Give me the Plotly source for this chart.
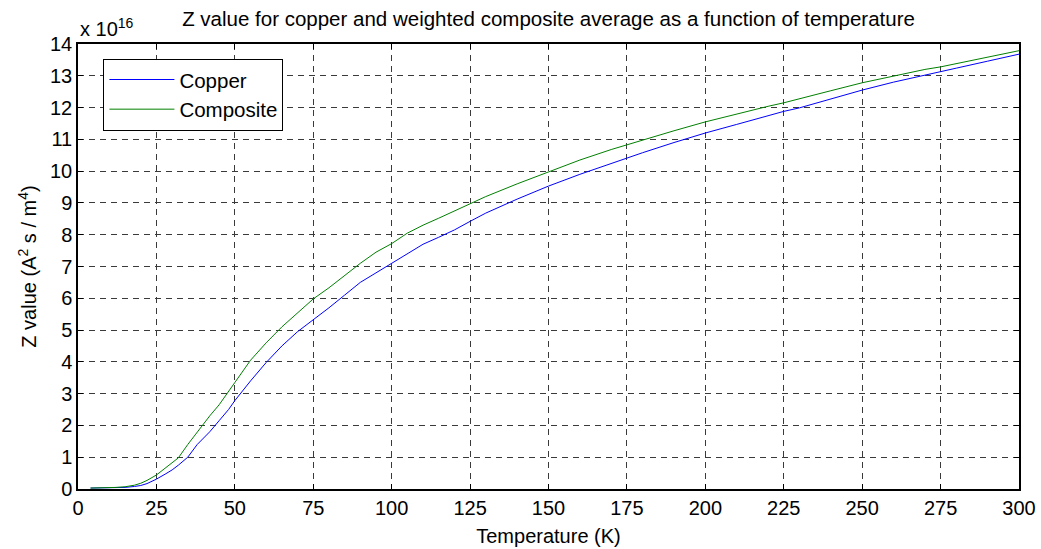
import plotly.graph_objects as go

# Temperature (K)
temperature = [4, 8, 12, 15, 18, 20, 22, 25, 28, 30, 32, 35, 38, 40, 42, 45, 48, 50, 55, 60,
               65, 70, 75, 80, 85, 90, 95, 100, 105, 110, 115, 120, 125, 130, 140, 150, 160,
               170, 175, 180, 190, 200, 210, 220, 225, 230, 240, 250, 260, 270, 275, 280, 290, 300]
# Z value in units of 1e16 A^2 s / m^4
copper = [0.03, 0.03, 0.04, 0.05, 0.08, 0.11, 0.17, 0.31, 0.48, 0.60, 0.75, 1.00, 1.40, 1.60,
          1.80, 2.15, 2.50, 2.78, 3.40, 3.98, 4.50, 4.95, 5.32, 5.70, 6.10, 6.50, 6.80, 7.10,
          7.38, 7.70, 7.92, 8.15, 8.42, 8.68, 9.12, 9.53, 9.90, 10.25, 10.43, 10.58, 10.90,
          11.20, 11.47, 11.74, 11.88, 11.99, 12.28, 12.55, 12.80, 13.03, 13.13, 13.24, 13.46, 13.68]
composite = [0.03, 0.03, 0.05, 0.07, 0.12, 0.18, 0.27, 0.44, 0.68, 0.85, 0.98, 1.40, 1.80, 2.05,
             2.30, 2.65, 3.05, 3.35, 4.05, 4.60, 5.10, 5.55, 5.98, 6.33, 6.72, 7.10, 7.45, 7.72,
             8.05, 8.30, 8.52, 8.75, 8.98, 9.20, 9.60, 9.98, 10.35, 10.68, 10.83, 10.98, 11.27,
             11.55, 11.80, 12.04, 12.15, 12.27, 12.53, 12.78, 13.00, 13.20, 13.28, 13.38, 13.58, 13.79]

x_ticks = list(range(0, 301, 25))
y_ticks = list(range(0, 15))

FONT = "Liberation Sans, Arial, sans-serif"

fig = go.Figure()
fig.add_trace(go.Scatter(x=temperature, y=copper, mode="lines", name="Copper",
                         line=dict(color="#0000FF", width=1)))
fig.add_trace(go.Scatter(x=temperature, y=composite, mode="lines", name="Composite",
                         line=dict(color="#008000", width=1)))

axis_common = dict(
    showline=True, linecolor="black", linewidth=1.5, mirror="ticks",
    ticks="inside", ticklen=5, tickcolor="black", tickwidth=1,
    showgrid=True, gridcolor="#3a3a3a", gridwidth=1, griddash="6px,5px",
    zeroline=False, automargin=False,
    tickfont=dict(family=FONT, size=20, color="black"),
)

fig.update_layout(
    width=1041, height=549,
    margin=dict(l=78, r=22, t=44, b=60),
    paper_bgcolor="white", plot_bgcolor="white",
    font=dict(family=FONT, color="black"),
    title=dict(text="Z value for copper and weighted composite average as a function of temperature",
               x=0.5, xref="paper", xanchor="center", y=0.965, yanchor="middle",
               font=dict(family=FONT, size=20.5, color="black")),
    xaxis=dict(range=[0, 300], tickvals=x_ticks,
               title=dict(text="Temperature (K)", font=dict(family=FONT, size=20), standoff=11),
               **axis_common),
    yaxis=dict(range=[0, 14], tickvals=y_ticks,
               title=dict(text="Z value (A<sup>2</sup> s / m<sup>4</sup>)", font=dict(family=FONT, size=20), standoff=8),
               **axis_common),
    legend=dict(x=0.027, y=0.967, xanchor="left", yanchor="top",
                bgcolor="white", bordercolor="black", borderwidth=1,
                font=dict(family=FONT, size=20.5, color="black"),
                itemwidth=65, tracegroupgap=0),
    showlegend=True,
    annotations=[dict(text="x 10<sup>16</sup>", xref="paper", yref="paper", x=0, y=1.0,
                      xanchor="left", yanchor="bottom", yshift=2, showarrow=False,
                      font=dict(family=FONT, size=20, color="black"))],
)

fig.write_html("out.html")
